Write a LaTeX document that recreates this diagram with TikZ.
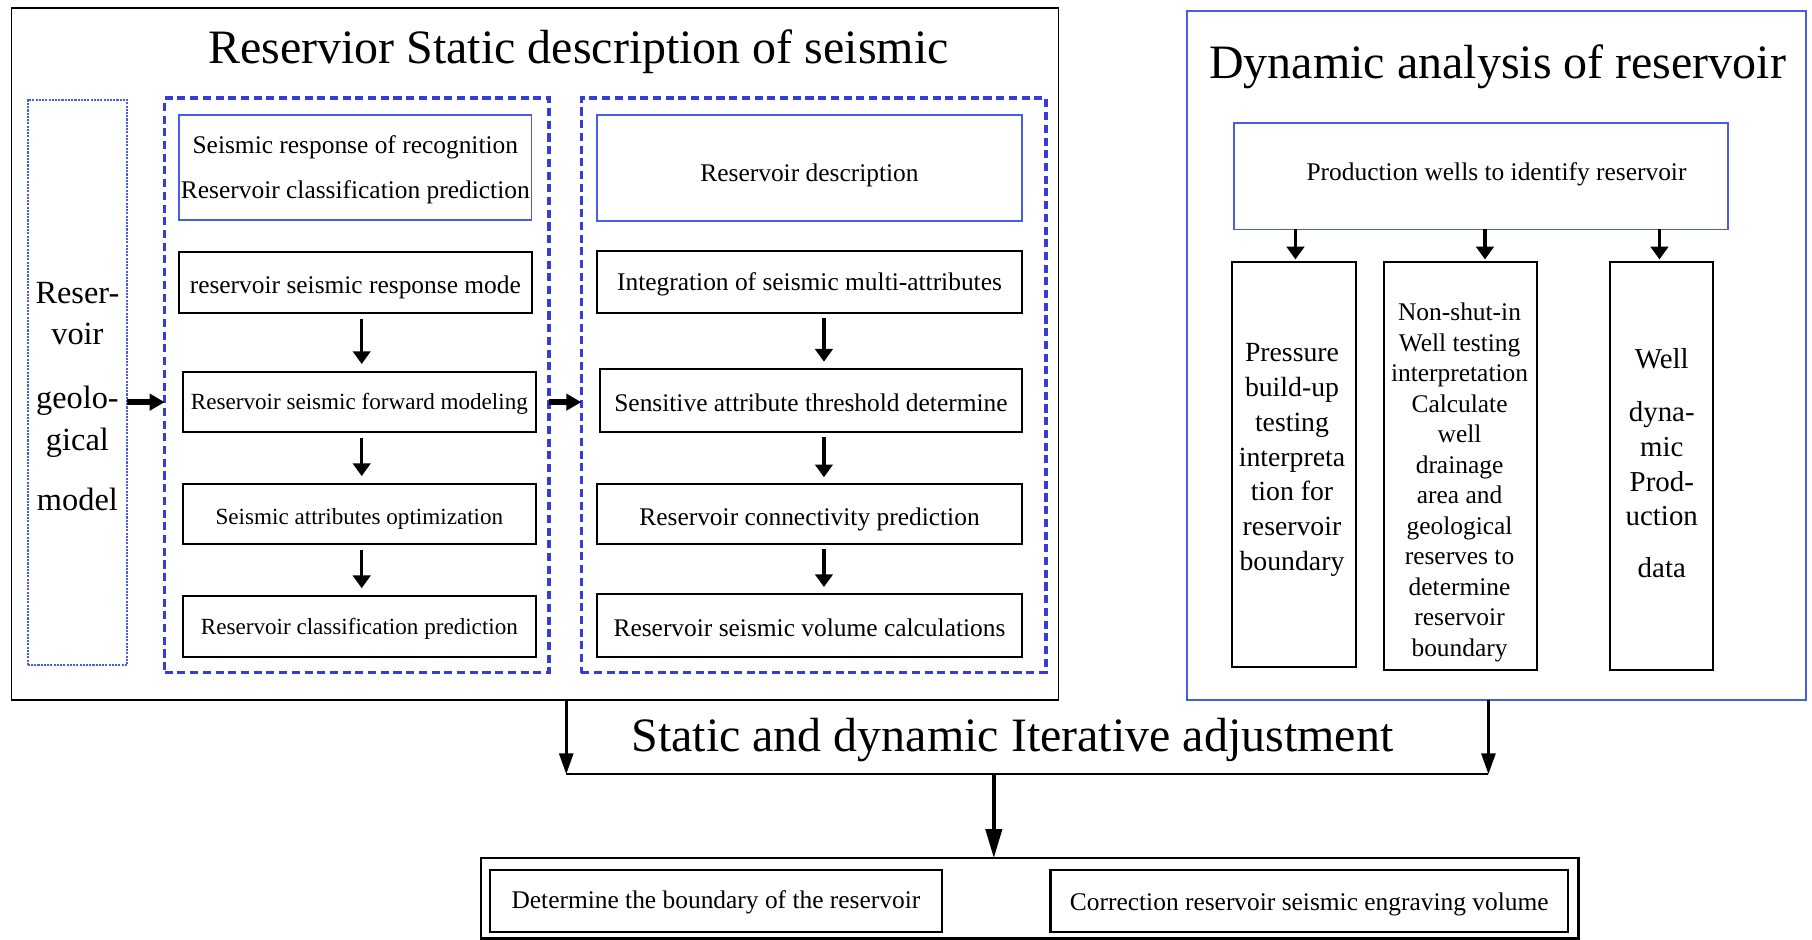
\documentclass[tikz,border=0pt]{standalone}
\usepackage{fontspec}
\setmainfont{Liberation Serif}
\usetikzlibrary{arrows.meta}
\definecolor{dblue}{RGB}{52,60,218}
\definecolor{lblue}{RGB}{72,92,228}
\tikzset{
  every node/.style={inner sep=0pt, outer sep=0pt},
  bbox/.style={draw=black, line width=1.8pt, rectangle, align=center},
  blbox/.style={draw=lblue, line width=1.5pt, rectangle, align=center},
  obox/.style={draw=black, line width=1.6pt, rectangle},
  dynbox/.style={draw=lblue, line width=1.6pt, rectangle},
  dbox/.style={draw=dblue, line width=3pt, dash pattern=on 7pt off 4pt, rectangle},
  dotbox/.style={draw=lblue, line width=1.8pt, densely dotted, rectangle, align=center},
  ttl/.style={font=\fontsize{41.5}{48}\selectfont, anchor=base},
  fa/.style={font=\fontsize{22}{38}\selectfont},
  fb/.style={font=\fontsize{20}{26}\selectfont},
  sh/.style 2 args={text height=#1pt, text depth=#2pt},
  varrow/.style={line width=3pt, -{Triangle[length=11pt,width=15pt]}},
  fatarrow/.style={line width=5.5pt, -{Triangle[length=13pt,width=14pt]}},
  barrow/.style={line width=2.5pt, -{Triangle[length=18pt,width=12pt]}},
  carrow/.style={line width=3pt, -{Triangle[length=25pt,width=14pt]}},
}
\begin{document}
\begin{tikzpicture}[x=1pt,y=-1pt]
\useasboundingbox (0,0) rectangle (1568,813);

% ---------- static part ----------
\node[obox, minimum width=906pt, minimum height=599pt] (static) at (463,306.5) {};
\node[ttl] (t1) at (500.5,55) {Reservior Static description of seismic};

\node[dotbox, minimum width=86pt, minimum height=489pt] (geo) at (67,331) {};
\node[align=center, font=\fontsize{28}{36}\selectfont] (geot) at (67,343)
  {Reser-\\voir\\[19pt]geolo-\\gical\\[16pt]model};

\node[dbox, minimum width=332.5pt, minimum height=497pt] (d1) at (308.75,333.5) {};
\node[dbox, minimum width=402pt, minimum height=497pt] (d2) at (704,333.5) {};

\node[blbox, minimum width=305pt, minimum height=91pt] (L1) at (307.5,145) {};
\node[align=center, font=\fontsize{22}{39}\selectfont] (L1t) at (307.5,147)
  {Seismic response of recognition\\Reservoir classification prediction};
\node[bbox, fa, sh={18.2}{0}, minimum width=305pt, minimum height=53pt] (L2) at (307.5,244.5)
  {reservoir seismic response mode};
\node[bbox, fb, sh={13.4}{0}, minimum width=306pt, minimum height=52pt] (L3) at (311,348)
  {Reservoir seismic forward modeling};
\node[bbox, fb, sh={17.4}{0}, minimum width=306pt, minimum height=52pt] (L4) at (311,445)
  {Seismic attributes optimization};
\node[bbox, fb, sh={13.4}{0}, minimum width=306pt, minimum height=52.5pt] (L5) at (311,542.25)
  {Reservoir classification prediction};

\node[blbox, fa, sh={23.4}{0}, minimum width=368pt, minimum height=91.5pt] (R1) at (700.5,145.25)
  {Reservoir description};
\node[bbox, fa, sh={14.2}{0}, minimum width=368pt, minimum height=54pt] (R2) at (700.5,244)
  {Integration of seismic multi-attributes};
\node[bbox, fa, sh={19}{0}, minimum width=365.5pt, minimum height=55pt] (R3) at (701.75,346.5)
  {Sensitive attribute threshold determine};
\node[bbox, fa, sh={20.2}{0}, minimum width=368pt, minimum height=52pt] (R4) at (700.5,445)
  {Reservoir connectivity prediction};
\node[bbox, fa, sh={19}{0}, minimum width=368pt, minimum height=54.5pt] (R5) at (700.5,541.25)
  {Reservoir seismic volume calculations};

\foreach \a/\b in {L2/L3,L3/L4,L4/L5}
  \draw[varrow, shorten <=5pt, shorten >=7pt] (\a.south -| 313,0) -- (\b.north -| 313,0);
\foreach \a/\b in {R2/R3,R3/R4,R4/R5}
  \draw[varrow, shorten <=4pt, shorten >=6pt] (\a.south -| 713,0) -- (\b.north -| 713,0);

\draw[fatarrow] (geo.east |- L3) -- (d1.west |- L3);
\draw[fatarrow] (d1.east |- L3) -- (d2.west |- L3);

% ---------- dynamic part ----------
\node[dynbox, minimum width=535.5pt, minimum height=596.5pt] (dyn) at (1295.25,307.75) {};
\node[ttl] (t2) at (1296,68) {Dynamic analysis of reservoir};

\node[blbox, fa, sh={13}{4.8}, minimum width=427pt, minimum height=92pt] (P) at (1281.5,152.5)
  {\hspace*{27pt}Production wells to identify reservoir};

\node[bbox, minimum width=107pt, minimum height=350.5pt] (Pb) at (1119.5,401.75) {};
\node[align=center, font=\fontsize{24}{30.2}\selectfont] (Pt) at (1118,398)
  {Pressure\\build-up\\testing\\interpreta\\tion for\\reservoir\\boundary};

\node[bbox, minimum width=132pt, minimum height=353.5pt] (Nb) at (1264,403.25) {};
\node[align=center, font=\fontsize{22}{26.4}\selectfont] (Nt) at (1263,417.5)
  {Non-shut-in\\Well testing\\interpretation\\Calculate\\well\\drainage\\area and\\geological\\reserves to\\determine\\reservoir\\boundary};

\node[bbox, minimum width=89pt, minimum height=353.5pt] (Wb) at (1437.5,403.25) {};
\node[align=center, font=\fontsize{25}{30}\selectfont] (Wt) at (1438,401)
  {Well\\[16pt]dyna-\\mic\\Prod-\\uction\\[15pt]data};

\draw[varrow, shorten >=2pt] (P.south -| 1121,0) -- (Pb.north -| 1121,0);
\draw[varrow, shorten >=2pt] (P.south -| 1285,0) -- (Nb.north -| 1285,0);
\draw[varrow, shorten >=2pt] (P.south -| 1436,0) -- (Wb.north -| 1436,0);

% ---------- bottom part ----------
\coordinate (jl) at (490,670);
\coordinate (jr) at (1288,670);
\coordinate (jm) at (860,670);
\node[ttl] (t3) at (876,650) {Static and dynamic Iterative adjustment};

\node[obox, line width=2pt, minimum width=950pt, minimum height=69.5pt] (bot) at (891,777.25) {};
\node[bbox, line width=2.2pt, fa, sh={15}{2.8}, minimum width=391pt, minimum height=53.5pt] (B1) at (619.5,779.75)
  {Determine the boundary of the reservoir};
\node[bbox, line width=2.2pt, fa, sh={16.2}{0}, minimum width=448pt, minimum height=53.5pt] (B2) at (1133,779.75)
  {Correction reservoir seismic engraving volume};

\draw[barrow] (static.south -| jl) -- (jl);
\draw[barrow] (dyn.south -| jr) -- (jr);
\draw[line width=2pt] (jl) -- (jr);
\draw[carrow] (jm) -- (bot.north -| jm);
\end{tikzpicture}
\end{document}
